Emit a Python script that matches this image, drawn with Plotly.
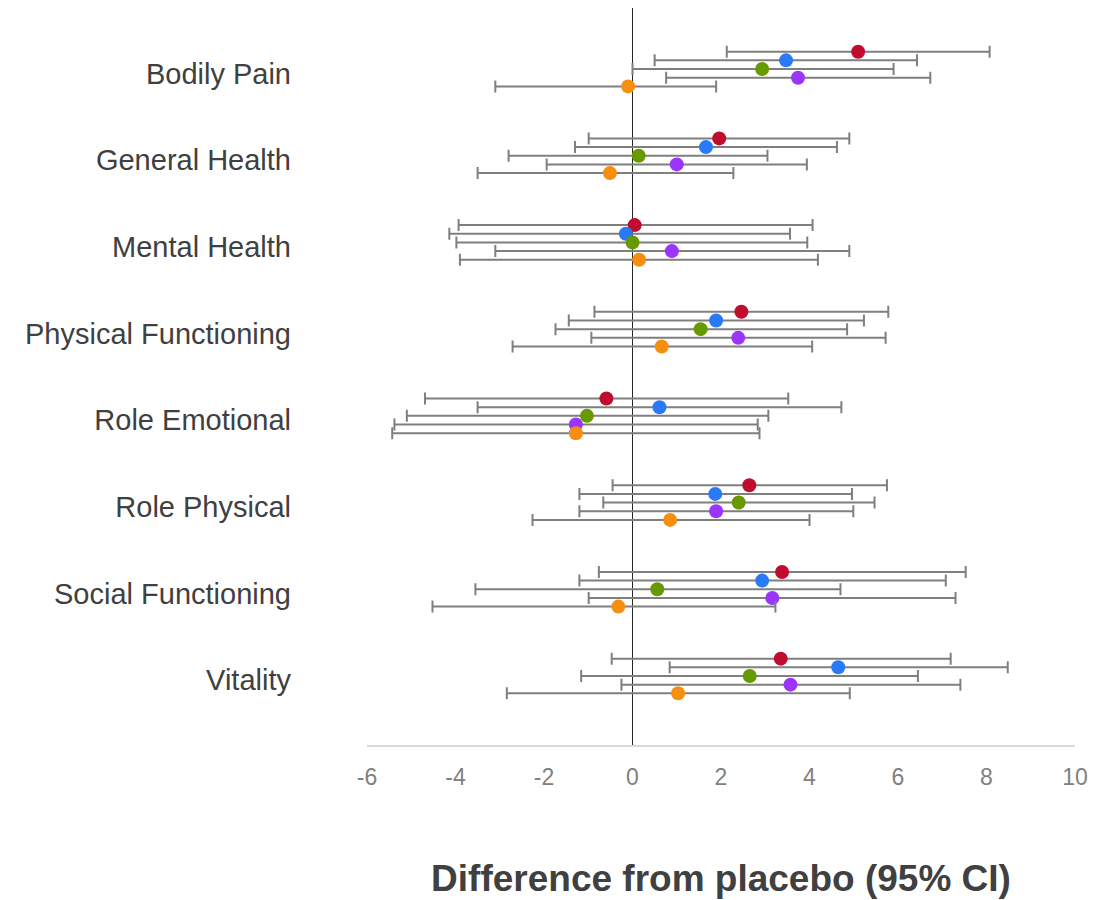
import plotly.graph_objects as go

categories = ["Bodily Pain", "General Health", "Mental Health", "Physical Functioning",
              "Role Emotional", "Role Physical", "Social Functioning", "Vitality"]

series_names = ["Red", "Blue", "Green", "Purple", "Orange"]
series_colors = ["#c00d2e", "#2a7af8", "#669a00", "#9b35fb", "#f68e10"]

# point estimates and 95% CI bounds per series (order of categories)
red_est = [5.10, 1.96, 0.05, 2.46, -0.59, 2.64, 3.38, 3.35]
red_lo = [2.13, -0.99, -3.93, -0.86, -4.69, -0.45, -0.76, -0.47]
red_hi = [8.07, 4.90, 4.07, 5.78, 3.52, 5.75, 7.53, 7.19]

blue_est = [3.47, 1.66, -0.15, 1.89, 0.61, 1.87, 2.93, 4.65]
blue_lo = [0.50, -1.30, -4.14, -1.44, -3.50, -1.20, -1.20, 0.84]
blue_hi = [6.43, 4.62, 3.56, 5.23, 4.72, 4.96, 7.08, 8.48]

green_est = [2.93, 0.14, 0.00, 1.54, -1.03, 2.40, 0.56, 2.65]
green_lo = [0.00, -2.80, -3.98, -1.74, -5.10, -0.66, -3.55, -1.16]
green_hi = [5.90, 3.05, 3.95, 4.85, 3.07, 5.47, 4.70, 6.45]

purple_est = [3.74, 1.00, 0.89, 2.39, -1.28, 1.89, 3.16, 3.57]
purple_lo = [0.76, -1.94, -3.10, -0.93, -5.38, -1.20, -0.99, -0.25]
purple_hi = [6.73, 3.94, 4.90, 5.72, 2.83, 4.99, 7.30, 7.41]

orange_est = [-0.10, -0.51, 0.15, 0.66, -1.28, 0.85, -0.32, 1.03]
orange_lo = [-3.10, -3.50, -3.90, -2.71, -5.43, -2.26, -4.52, -2.84]
orange_hi = [1.89, 2.28, 4.19, 4.06, 2.87, 4.00, 3.23, 4.91]

x_ticks = [-6, -4, -2, 0, 2, 4, 6, 8, 10]

all_series = [
    (red_est, red_lo, red_hi),
    (blue_est, blue_lo, blue_hi),
    (green_est, green_lo, green_hi),
    (purple_est, purple_lo, purple_hi),
    (orange_est, orange_lo, orange_hi),
]

fig = go.Figure()
offset_step = 0.1
for k, ((est, lo, hi), name, color) in enumerate(zip(all_series, series_names, series_colors)):
    off = (k - 2) * offset_step
    ys = [i + off for i in range(len(categories))]
    fig.add_trace(go.Scatter(
        x=est, y=ys, mode="markers", name=name,
        marker=dict(color=color, size=14, line=dict(width=0)),
        error_x=dict(type="data", symmetric=False,
                     array=[h - e for h, e in zip(hi, est)],
                     arrayminus=[e - l for e, l in zip(est, lo)],
                     color="#7f7f7f", thickness=2, width=6),
        showlegend=False,
    ))

fig.update_layout(
    width=1111, height=900,
    margin=dict(l=359, r=44, t=0, b=163),
    plot_bgcolor="white", paper_bgcolor="white",
    font=dict(family="Liberation Sans, Arial, sans-serif"),
    xaxis=dict(
        range=[-6, 10], tickvals=x_ticks, ticktext=[str(v) for v in x_ticks],
        showgrid=False, zeroline=True, zerolinecolor="#262626", zerolinewidth=1,
        showline=True, linecolor="#d9d9d9", linewidth=2,
        ticks="", tickfont=dict(size=23, color="#808080"), ticklabelstandoff=10,
        title=dict(text="<b>Difference from placebo (95% CI)</b>",
                   font=dict(size=37, color="#404040"), standoff=77),
    ),
    yaxis=dict(
        range=[7.796, -0.704],
        tickvals=[i + 0.05 for i in range(len(categories))], ticktext=categories,
        showgrid=False, zeroline=False, showline=False, ticks="",
        tickfont=dict(size=29, color="#404040"), ticklabelstandoff=75,
    ),
)

fig.write_html("out.html")
